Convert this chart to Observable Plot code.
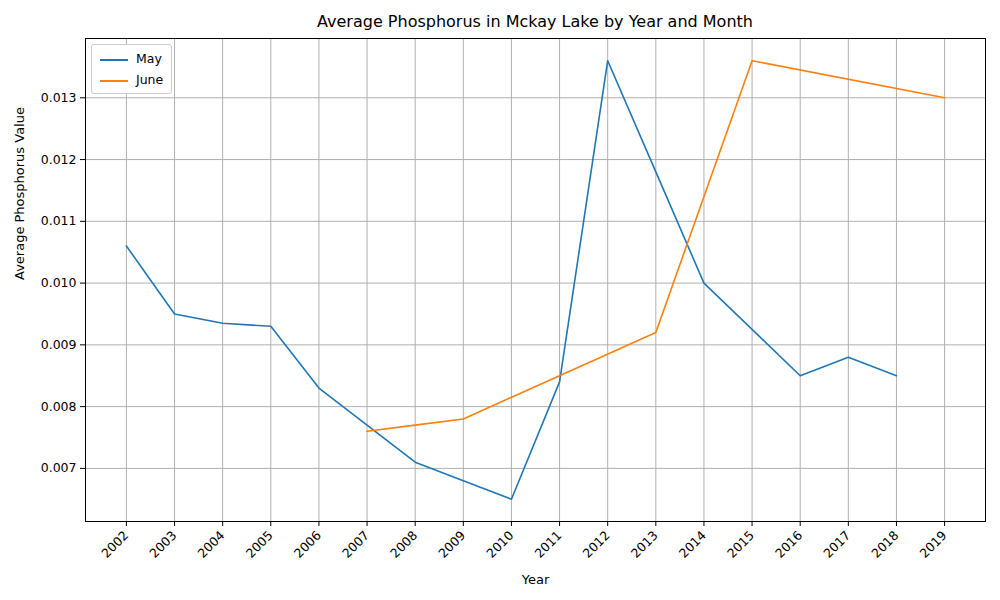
<!DOCTYPE html>
<html><head><meta charset="utf-8">
<script src="https://cdn.jsdelivr.net/npm/d3@7"></script>
<script src="https://cdn.jsdelivr.net/npm/@observablehq/plot@0.6"></script>
<style>
body{margin:0;background:#fff;font-family:"DejaVu Sans",sans-serif;}
#wrap{position:relative;width:1000px;height:600px;}
#title{position:absolute;top:12px;left:85px;width:900px;text-align:center;font-size:16px;color:#000;}
#legend{position:absolute;left:91px;top:44px;background:#fff;border:1px solid #ccc;border-radius:3px;padding:3px 8px;font-size:12.5px;line-height:21px;}
#legend span.sw{display:inline-block;width:28px;height:2px;vertical-align:middle;margin-right:8px;}
#chart{position:absolute;top:0;left:0;}
</style></head><body>
<div id="wrap"><div id="chart"></div>
<div id="title">Average Phosphorus in Mckay Lake by Year and Month</div>
<div id="legend"><div><span class="sw" style="background:#1f77b4"></span>May</div><div><span class="sw" style="background:#ff7f0e"></span>June</div></div>
</div>
<script>
const years = d3.range(2002, 2020);
const mayYears = [2002,2003,2004,2005,2006,2007,2008,2009,2010,2011,2012,2013,2014,2016,2017,2018];
const mayValues = [0.0106,0.0095,0.00935,0.0093,0.0083,0.0077,0.0071,0.0068,0.0065,0.0084,0.0136,0.0118,0.0100,0.0085,0.0088,0.0085];
const juneYears = [2007,2008,2009,2011,2013,2015,2019];
const juneValues = [0.0076,0.0077,0.0078,0.0085,0.0092,0.0136,0.0130];
const yTicks = [0.007,0.008,0.009,0.010,0.011,0.012,0.013];
const may = mayYears.map((y,i)=>({year:y,value:mayValues[i]}));
const june = juneYears.map((y,i)=>({year:y,value:juneValues[i]}));
const plot = Plot.plot({
  width:1000,height:600,marginLeft:85,marginRight:15,marginTop:38,marginBottom:79,
  style:{fontFamily:"DejaVu Sans",fontSize:"12.5px",color:"#000",background:"transparent"},
  x:{domain:[2001.15,2019.85],ticks:years,tickFormat:d=>String(d),tickRotate:-45,label:null},
  y:{domain:[0.00614,0.01396],ticks:yTicks,tickFormat:".3f",label:null},
  marks:[
    Plot.gridX(years,{stroke:"#b0b0b0",strokeOpacity:1}),
    Plot.gridY(yTicks,{stroke:"#b0b0b0",strokeOpacity:1}),
    Plot.axisX({ticks:years,tickFormat:d=>String(d),tickRotate:-45,label:null,tickSize:5}),
    Plot.axisY({ticks:yTicks,tickFormat:".3f",label:null,tickSize:5}),
    Plot.frame({stroke:"#000"}),
    Plot.line(may,{x:"year",y:"value",stroke:"#1f77b4",strokeWidth:1.6}),
    Plot.line(june,{x:"year",y:"value",stroke:"#ff7f0e",strokeWidth:1.6}),
    Plot.text(["Year"],{frameAnchor:"bottom",dy:62,fontSize:13}),
    Plot.text(["Average Phosphorus Value"],{frameAnchor:"left",dx:-66,rotate:-90,fontSize:13})
  ]
});
document.getElementById("chart").append(plot);
</script></body></html>
